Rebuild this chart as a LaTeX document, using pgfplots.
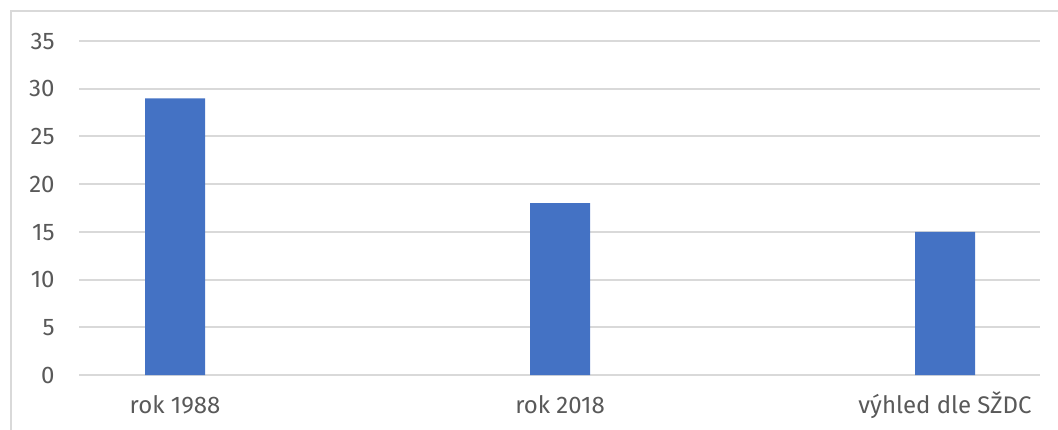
\documentclass[border=0pt]{standalone}
\usepackage{fontspec}
\setmainfont{Fira Sans}
\usepackage{pgfplots}
\pgfplotsset{compat=1.18}
\definecolor{barblue}{HTML}{4472C4}
\definecolor{gridgray}{HTML}{D9D9D9}
\definecolor{txtgray}{HTML}{595959}
\begin{document}
\begin{tikzpicture}
\useasboundingbox (0,0) rectangle (529pt,214.5pt);
\draw[gridgray, line width=0.9pt] (5.5pt,-10pt) -- (5.5pt,209pt) -- (540pt,209pt);
\begin{axis}[
  at={(39.5pt,27pt)}, anchor=south west,
  scale only axis, width=480.5pt, height=167pt,
  xmin=-0.2494, xmax=2.2468, ymin=0, ymax=35,
  axis line style={draw=none},
  ytick={0,5,...,35}, xtick={0,1,2},
  xticklabels={rok 1988, rok 2018, výhled dle SŽDC},
  major tick length=0pt,
  ymajorgrids, grid style={gridgray, line width=1pt},
  /pgf/number format/assume math mode=true,
  tick label style={font=\fontsize{12}{14}\selectfont, text=txtgray, inner sep=0pt},
  yticklabel style={anchor=base east, xshift=-12pt, yshift=-4.1pt},
  xticklabel style={anchor=base, yshift=-19pt},
  clip=false,
]
\addplot[ybar, bar width=30pt, fill=barblue, draw=none] coordinates {(0,29) (1,18) (2,15)};
\end{axis}
\end{tikzpicture}
\end{document}
